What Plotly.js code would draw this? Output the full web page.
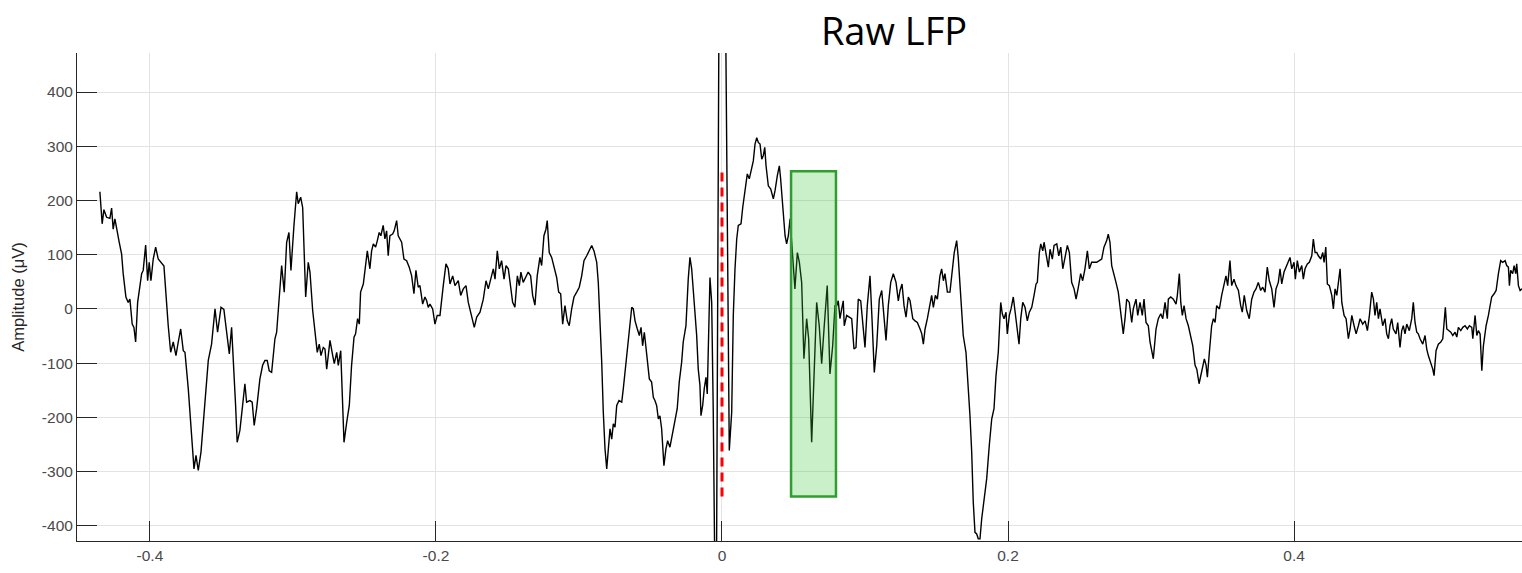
<!DOCTYPE html>
<html><head><meta charset="utf-8">
<script src="https://cdn.plot.ly/plotly-3.0.1.min.js"></script>
<style>html,body{margin:0;padding:0;background:#fff}#chart{width:1522px;height:573px}</style>
</head><body><div id="chart"></div><script>
const timeS = [
-0.4350,-0.4334,-0.4322,-0.4303,-0.4280,-0.4268,-0.4257,-0.4245,-0.4215,-0.4198,-0.4187,-0.4168,-0.4152,-0.4140,-0.4124,-0.4112,-0.4100,-0.4086,-0.4058,-0.4047,
-0.4030,-0.4016,-0.4005,-0.3993,-0.3977,-0.3960,-0.3942,-0.3925,-0.3902,-0.3872,-0.3855,-0.3837,-0.3818,-0.3802,-0.3785,-0.3767,-0.3755,-0.3732,-0.3708,-0.3692,
-0.3678,-0.3662,-0.3643,-0.3615,-0.3592,-0.3569,-0.3545,-0.3527,-0.3503,-0.3483,-0.3464,-0.3445,-0.3429,-0.3413,-0.3401,-0.3390,-0.3371,-0.3352,-0.3336,-0.3324,
-0.3301,-0.3285,-0.3271,-0.3254,-0.3231,-0.3212,-0.3196,-0.3180,-0.3166,-0.3149,-0.3126,-0.3114,-0.3096,-0.3079,-0.3061,-0.3044,-0.3028,-0.3014,-0.2993,-0.2974,
-0.2963,-0.2946,-0.2932,-0.2923,-0.2911,-0.2893,-0.2881,-0.2862,-0.2846,-0.2830,-0.2816,-0.2804,-0.2788,-0.2776,-0.2764,-0.2741,-0.2722,-0.2711,-0.2694,-0.2683,
-0.2666,-0.2655,-0.2643,-0.2624,-0.2606,-0.2590,-0.2573,-0.2562,-0.2548,-0.2536,-0.2527,-0.2508,-0.2497,-0.2480,-0.2462,-0.2450,-0.2438,-0.2422,-0.2410,-0.2397,
-0.2385,-0.2369,-0.2357,-0.2345,-0.2334,-0.2322,-0.2303,-0.2292,-0.2275,-0.2264,-0.2240,-0.2224,-0.2205,-0.2187,-0.2170,-0.2154,-0.2140,-0.2124,-0.2112,-0.2093,
-0.2077,-0.2065,-0.2054,-0.2042,-0.2023,-0.2007,-0.1991,
-0.1972,-0.1949,-0.1930,-0.1914,-0.1902,-0.1883,-0.1867,-0.1844,-0.1827,-0.1809,-0.1790,-0.1774,-0.1750,-0.1732,-0.1715,-0.1692,-0.1669,-0.1650,-0.1634,-0.1617,
-0.1599,-0.1587,-0.1571,-0.1557,-0.1541,-0.1524,-0.1510,-0.1494,-0.1478,-0.1464,-0.1448,-0.1431,-0.1417,-0.1406,-0.1390,-0.1371,-0.1355,-0.1338,-0.1324,-0.1308,
-0.1292,-0.1273,-0.1261,-0.1245,-0.1231,-0.1222,-0.1208,-0.1191,-0.1175,-0.1156,-0.1142,-0.1128,-0.1114,-0.1098,-0.1082,-0.1068,-0.1051,-0.1035,-0.1016,-0.0998,
-0.0981,-0.0965,-0.0946,-0.0928,-0.0911,-0.0895,-0.0876,-0.0865,-0.0853,-0.0841,-0.0830,-0.0818,-0.0806,-0.0795,-0.0783,-0.0771,-0.0760,-0.0748,-0.0736,-0.0720,
-0.0701,-0.0690,-0.0671,-0.0662,-0.0648,-0.0631,-0.0620,-0.0608,-0.0592,-0.0578,-0.0566,-0.0555,-0.0543,-0.0527,-0.0508,-0.0492,-0.0480,-0.0469,-0.0457,-0.0445,
-0.0434,-0.0422,-0.0406,-0.0392,-0.0380,-0.0364,-0.0345,-0.0329,-0.0313,-0.0299,-0.0282,-0.0271,-0.0252,-0.0236,-0.0224,-0.0212,-0.0196,-0.0177,-0.0166,-0.0154,
-0.0147,-0.0135,-0.0124,-0.0112,-0.0103,-0.0096,-0.0084,-0.0072,-0.0061,-0.0042,-0.0017,0.0017,
0.0051,0.0068,0.0079,0.0091,0.0103,0.0114,0.0133,0.0145,0.0156,0.0168,0.0177,0.0191,0.0208,0.0219,0.0231,0.0243,0.0254,0.0266,0.0278,0.0289,
0.0299,0.0308,0.0324,0.0341,0.0359,0.0371,0.0387,0.0401,0.0410,0.0424,0.0441,0.0452,0.0464,0.0476,
0.0494,0.0510,0.0527,0.0541,0.0557,0.0573,0.0592,0.0606,0.0627,0.0643,0.0662,0.0680,0.0697,0.0715,0.0736,0.0755,0.0774,0.0790,0.0802,0.0813,
0.0825,0.0837,0.0848,0.0855,0.0872,0.0890,0.0907,0.0923,0.0937,0.0953,0.0970,0.0984,0.1000,0.1016,0.1035,0.1049,0.1065,0.1082,0.1100,0.1117,
0.1133,0.1147,0.1163,0.1180,0.1198,0.1217,0.1233,0.1245,0.1259,0.1273,0.1287,0.1303,0.1315,0.1334,0.1350,0.1366,0.1385,0.1397,0.1408,0.1420,
0.1436,0.1450,0.1466,0.1478,0.1492,0.1506,0.1524,0.1536,0.1548,0.1559,0.1576,0.1594,0.1613,0.1624,0.1641,0.1652,0.1669,0.1687,0.1706,0.1722,
0.1734,0.1746,0.1757,0.1769,0.1781,0.1792,0.1804,0.1816,0.1832,0.1851,0.1869,0.1886,0.1902,0.1916,0.1932,0.1949,0.1960,0.1972,0.1986,0.1995,
0.2009,0.2021,0.2037,0.2049,0.2061,0.2077,0.2089,0.2103,0.2119,0.2135,0.2149,0.2166,0.2182,0.2196,0.2205,0.2219,0.2229,0.2243,0.2252,0.2266,
0.2282,0.2294,0.2310,0.2322,0.2341,0.2355,0.2369,0.2383,0.2399,0.2415,0.2429,0.2445,0.2462,0.2476,0.2492,0.2508,0.2522,0.2538,0.2555,0.2569,
0.2585,0.2601,0.2620,0.2638,0.2655,0.2671,0.2690,0.2701,0.2713,0.2725,0.2741,0.2755,0.2771,0.2783,0.2795,0.2806,0.2818,0.2830,0.2848,0.2865,
0.2876,0.2895,0.2907,0.2923,0.2939,0.2951,0.2965,0.2981,0.2993,
0.3016,0.3035,0.3051,0.3068,0.3082,0.3098,0.3114,0.3121,0.3138,0.3156,0.3175,0.3184,0.3198,0.3208,0.3219,0.3231,0.3245,0.3261,0.3278,0.3292,
0.3308,0.3320,0.3336,0.3348,0.3362,0.3373,0.3385,0.3394,0.3408,0.3424,0.3436,0.3448,0.3459,0.3478,0.3494,0.3510,0.3524,0.3536,0.3552,0.3564,
0.3580,0.3594,0.3611,0.3627,0.3638,0.3652,0.3669,0.3687,0.3704,0.3720,0.3734,0.3750,0.3767,0.3781,0.3797,0.3813,0.3827,0.3844,0.3860,0.3874,
0.3890,0.3902,0.3914,0.3930,0.3944,0.3960,0.3972,0.3984,0.4000,0.4009,0.4023,0.4037,0.4054,0.4065,0.4077,0.4093,0.4107,0.4124,0.4135,0.4147,
0.4159,0.4170,0.4187,0.4201,0.4210,0.4222,0.4233,0.4247,0.4264,0.4275,0.4287,0.4299,0.4310,0.4322,0.4334,0.4350,0.4364,0.4380,0.4392,0.4404,
0.4420,0.4434,0.4450,0.4462,0.4480,0.4497,0.4513,0.4527,0.4543,0.4555,0.4566,0.4578,0.4590,0.4601,0.4620,0.4636,0.4648,0.4660,0.4671,0.4683,
0.4694,0.4713,0.4725,0.4741,0.4753,0.4764,0.4776,0.4788,0.4806,0.4823,0.4834,0.4846,0.4858,0.4869,0.4881,0.4900,0.4916,0.4928,0.4939,0.4956,
0.4970,0.4979,0.4993,0.5009,0.5026,0.5040,0.5049,0.5058,0.5068,0.5079,0.5096,0.5110,0.5126,0.5138,0.5149,0.5166,0.5180,0.5196,0.5212,0.5226,
0.5243,0.5250,0.5266,0.5278,0.5289,0.5301,0.5313,0.5324,0.5343,0.5359,0.5371,0.5382,0.5399,0.5413,0.5429,0.5445,0.5459,0.5476,0.5487,0.5499,
0.5506,0.5515,0.5529,0.5539,0.5550,0.5557,0.5569,0.5581,0.5594
];
const amplitudeUV = [
216,157,183,169,167,186,147,166,123,101,65,22,12,18,-28,-34,-61,12,65,71,
118,52,86,52,92,114,92,86,79,-31,-80,-61,-86,-61,-37,-77,-80,-147,-227,-295,
-270,-298,-264,-178,-95,-65,0,-43,3,-1,-37,-83,-34,-104,-178,-246,-224,-178,-138,-172,
-169,-172,-215,-184,-129,-104,-95,-95,-114,-117,-55,-43,25,80,31,123,141,71,154,216,
194,206,187,117,22,86,68,-3,-37,-80,-65,-86,-71,-74,-111,-58,-86,-101,-80,-104,
-77,-154,-246,-209,-178,-104,-52,-46,-18,-28,31,46,68,107,74,107,120,114,126,141,
135,154,129,144,98,135,138,144,163,135,123,92,89,77,61,28,71,40,43,9,
22,15,3,9,0,-28,-12,
-12,43,83,74,46,61,43,52,25,37,43,12,-15,-34,-15,-6,18,52,37,55,
74,55,107,74,89,55,80,74,46,12,3,61,43,68,49,58,68,61,25,7,
61,95,80,135,147,163,104,95,80,58,31,28,-28,6,-22,-31,0,22,31,40,
61,89,98,107,117,107,86,49,-12,-98,-190,-258,-295,-264,-221,-240,-212,-218,-178,-169,
-172,-147,-98,-86,-49,3,0,-22,-37,-49,-34,-68,-43,-86,-129,-135,-163,-169,-178,-203,
-197,-221,-289,-258,-243,-255,-227,-203,-184,-135,-98,-61,-31,55,95,74,25,-49,-111,-141,
-197,-178,-147,-126,-157,-86,58,12,-190,-700,800,800,
-261,-190,-12,74,129,154,157,187,209,224,249,240,258,273,304,316,307,304,276,283,
298,264,227,221,203,218,246,264,240,184,135,120,135,166,
104,37,104,86,49,-92,-18,-55,-246,-141,12,-31,-101,-31,43,-120,-68,6,6,15,
-18,0,15,-31,-12,-15,-18,-74,-71,18,15,-25,-71,6,61,-18,-117,-68,18,34,
-18,-58,6,49,65,49,15,34,46,6,-15,22,15,-18,-22,-25,-37,-46,-65,-37,
-18,6,25,3,25,18,61,74,52,65,31,31,74,104,126,95,25,-49,-80,-141,
-197,-264,-356,-412,-415,-424,-424,-387,-356,-313,-252,-203,-184,-123,-80,12,-9,-18,-6,-46,
-12,0,22,-3,-31,-65,-18,12,3,-22,-6,3,25,46,49,104,120,107,123,104,
77,110,92,117,120,98,114,74,95,117,104,49,37,18,40,65,52,74,107,74,
86,86,86,89,92,114,126,138,123,80,65,49,31,6,-18,-46,-18,18,12,-25,
0,18,-12,12,-12,18,-25,-31,-61,
-92,-37,-18,-9,-18,12,-18,18,22,18,9,25,65,12,-12,6,-18,-31,-49,-68,
-104,-111,-138,-123,-104,-92,-104,-126,-80,-31,-18,-25,6,0,25,46,61,43,89,43,
55,43,34,6,-6,25,-3,-18,18,31,37,49,34,40,31,77,52,37,3,37,
49,74,46,68,77,86,95,74,86,55,89,68,80,55,74,83,86,98,129,104,
104,98,92,104,86,114,46,43,25,0,37,25,55,74,12,-12,-18,-55,-37,-12,
-31,-46,-31,-18,-28,-22,-40,-12,31,18,-12,12,-18,0,-31,-18,-46,-55,-31,-18,
-37,-46,-25,-71,-40,-31,-46,-28,-40,-18,12,-25,-43,-46,-55,-65,-49,-74,-86,-98,
-111,-123,-77,-65,-61,-55,-31,3,-37,-40,-43,-49,-43,-52,-34,-40,-34,-31,-37,-31,
-34,-55,-12,-49,-40,-46,-114,-68,-31,-12,9,22,28,34,65,89,86,89,80,77,
43,71,65,80,65,83,43,34,37
];
const xTickVals = [-0.4, -0.2, 0, 0.2, 0.4];
const xTickText = ['-0.4', '-0.2', '0', '0.2', '0.4'];
const yTickVals = [-400, -300, -200, -100, 0, 100, 200, 300, 400];
const yTickText = ['-400', '-300', '-200', '-100', '0', '100', '200', '300', '400'];
const eventTime = 0;
const windowTime = [0.0483, 0.0797];
const windowAmp = [-346, 254];

const tickFont = {family: 'Liberation Sans, Arial, sans-serif', size: 15.5, color: '#4a4a4a'};
const traces = [{
  x: timeS, y: amplitudeUV, type: 'scatter', mode: 'lines',
  line: {color: '#000000', width: 1.4}, hoverinfo: 'skip'
}];
const layout = {
  width: 1522, height: 573,
  margin: {l: 77, r: 0, t: 53, b: 32},
  paper_bgcolor: '#ffffff', plot_bgcolor: '#ffffff',
  showlegend: false,
  title: {text: 'Raw LFP', font: {family: 'Open Sans, Noto Sans, sans-serif', size: 38, color: '#000000'},
          xref: 'container', x: 0.5874, xanchor: 'center', yref: 'container', y: 0.945, yanchor: 'middle'},
  xaxis: {range: [-0.451, 0.5594], tickmode: 'array', tickvals: xTickVals, ticktext: xTickText,
          showgrid: true, gridcolor: '#e3e3e3', gridwidth: 1, zeroline: false,
          showline: true, linecolor: '#262626', linewidth: 1, mirror: false,
          ticks: 'inside', ticklen: 20, tickcolor: '#262626', tickwidth: 1,
          tickfont: tickFont},
  yaxis: {range: [-428, 472], tickmode: 'array', tickvals: yTickVals, ticktext: yTickText,
          showgrid: true, gridcolor: '#e3e3e3', gridwidth: 1, zeroline: false,
          showline: true, linecolor: '#262626', linewidth: 1, mirror: false,
          ticks: 'inside', ticklen: 20, tickcolor: '#262626', tickwidth: 1,
          tickfont: tickFont,
          title: {text: 'Amplitude (μV)', font: {family: 'Liberation Sans, Arial, sans-serif', size: 16.5, color: '#262626'}, standoff: 13}},
  shapes: [
    {type: 'rect', xref: 'x', yref: 'y', x0: windowTime[0], x1: windowTime[1], y0: windowAmp[0], y1: windowAmp[1],
     fillcolor: 'rgba(60,200,60,0.27)', line: {color: '#2e9e2e', width: 2.5}, layer: 'above'},
    {type: 'line', xref: 'x', yref: 'y', x0: eventTime, x1: eventTime, y0: windowAmp[0], y1: windowAmp[1],
     line: {color: '#ff0000', width: 3, dash: '9px,6px'}, layer: 'above'}
  ]
};
Plotly.newPlot('chart', traces, layout, {displayModeBar: false, staticPlot: true});
</script></body></html>
